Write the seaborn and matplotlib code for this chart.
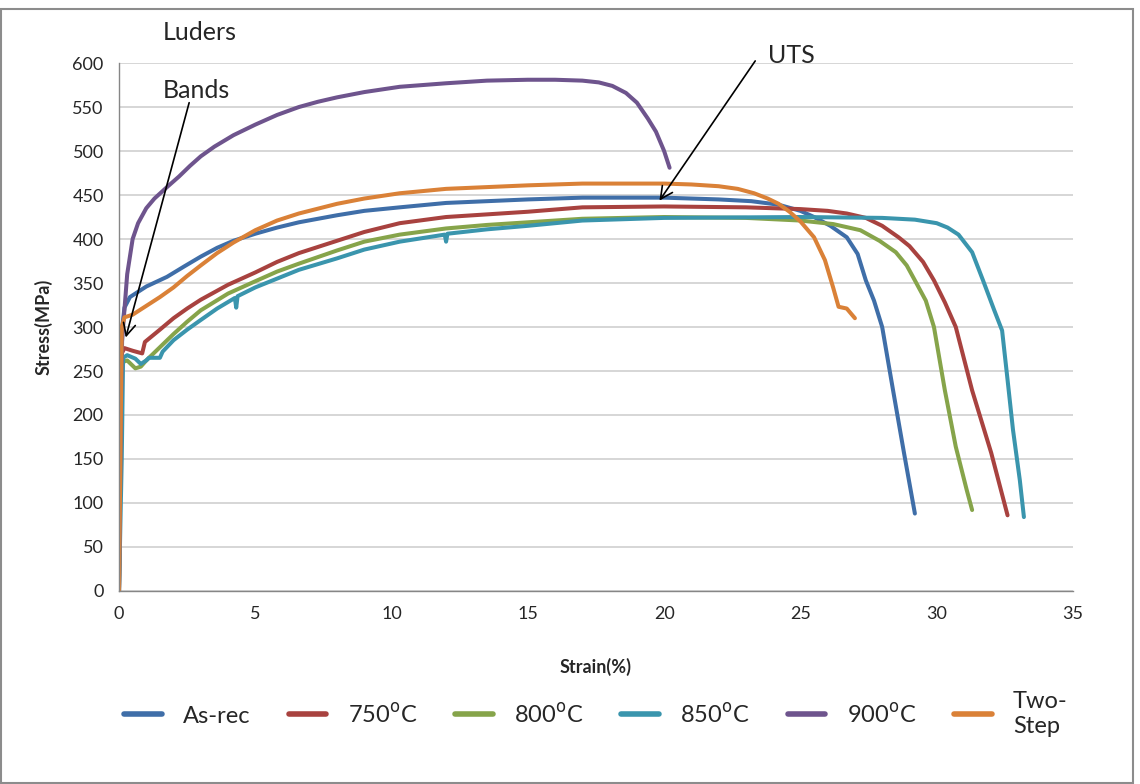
import numpy as np
import pandas as pd
import seaborn as sns
import matplotlib.pyplot as plt
from matplotlib.patches import Rectangle

# values (strain %, stress MPa)
asrec_x = [0, 0.05, 0.12, 0.2, 0.4, 0.7, 1, 1.76, 2.4, 3, 3.6, 4.2, 5, 5.8, 6.6, 8, 9, 10.3, 12, 13.5, 15, 17, 20, 22, 23.2, 24.2, 25.0, 25.5, 26.1, 26.7, 27.1, 27.4, 27.7, 28.0, 28.4, 28.8, 29.2]
asrec_y = [0, 150, 300, 322, 334, 340, 346, 357, 369, 380, 390, 398, 406, 413, 419, 427, 432, 436, 441, 443, 445, 447, 447, 445, 443, 439, 432, 425, 415, 402, 383, 353, 330, 300, 228, 157, 88]

t750_x = [0, 0.05, 0.1, 0.2, 0.5, 0.85, 0.95, 1.5, 2, 2.5, 3, 4, 5, 5.8, 6.6, 8, 9, 10.3, 12, 13.5, 15, 17, 20, 23, 25, 26, 26.7, 27.4, 28, 28.6, 29, 29.5, 29.9, 30.3, 30.7, 31.3, 32.0, 32.6]
t750_y = [0, 150, 270, 276, 273, 270, 283, 297, 310, 321, 331, 348, 362, 374, 384, 398, 408, 418, 425, 428, 431, 436, 437, 436, 434, 432, 429, 424, 415, 402, 392, 374, 353, 328, 300, 228, 157, 86]

t800_x = [0, 0.05, 0.12, 0.3, 0.6, 0.8, 1.0, 1.5, 2, 2.5, 3, 4, 5, 5.8, 6.6, 8, 9, 10.3, 12, 13.5, 15, 17, 20, 23, 25, 26.2, 27.2, 27.9, 28.5, 28.9, 29.2, 29.6, 29.9, 30.3, 30.7, 31.1, 31.3]
t800_y = [0, 150, 260, 262, 253, 255, 262, 277, 292, 306, 319, 338, 352, 363, 372, 387, 397, 405, 412, 416, 419, 423, 425, 424, 421, 417, 410, 398, 385, 370, 353, 330, 300, 228, 164, 115, 92]

t850_x = [0, 0.1, 0.15, 0.3, 0.6, 0.8, 1.0, 1.1, 1.5, 1.6, 2, 2.5, 3, 3.6, 4.25, 4.3, 4.35, 5, 5.8, 6.6, 8, 9, 10.3, 11.95, 12.0, 12.05, 13.5, 15, 17, 20, 25, 28, 29.2, 30, 30.4, 30.8, 31.3, 31.7, 32.1, 32.4, 32.6, 32.8, 33.05, 33.2]
t850_y = [0, 150, 265, 268, 264, 258, 262, 265, 265, 272, 285, 297, 308, 321, 333, 322, 335, 345, 355, 365, 378, 388, 397, 405, 397, 406, 411, 415, 421, 424, 425, 424, 422, 418, 413, 405, 385, 353, 320, 296, 240, 183, 126, 84]

t900_x = [0, 0.05, 0.1, 0.2, 0.3, 0.5, 0.7, 1, 1.3, 1.76, 2.2, 2.6, 3, 3.5, 4.2, 5, 5.8, 6.6, 7.3, 8, 9, 10.3, 12, 13.5, 15, 16, 17, 17.6, 18.1, 18.6, 19, 19.4, 19.7, 20.0, 20.2]
t900_y = [0, 150, 280, 320, 360, 400, 418, 435, 446, 459, 471, 483, 494, 505, 518, 530, 541, 550, 556, 561, 567, 573, 577, 580, 581, 581, 580, 578, 574, 566, 555, 537, 522, 500, 481]

twostep_x = [0, 0.05, 0.1, 0.2, 0.5, 1, 1.5, 2, 2.5, 3, 3.6, 4.2, 5, 5.8, 6.6, 8, 9, 10.3, 12, 13.5, 15, 17, 20, 21, 22, 22.7, 23.3, 23.8, 24.2, 24.6, 25.0, 25.5, 25.9, 26.2, 26.4, 26.7, 27.0]
twostep_y = [0, 150, 300, 311, 314, 324, 334, 345, 358, 370, 384, 396, 410, 421, 429, 440, 446, 452, 457, 459, 461, 463, 463, 462, 460, 457, 452, 446, 440, 431, 420, 402, 376, 345, 323, 321, 310]

names = ["As-rec", "750$^{\\mathrm{o}}$C", "800$^{\\mathrm{o}}$C", "850$^{\\mathrm{o}}$C", "900$^{\\mathrm{o}}$C", "Two-\nStep"]
colors = ["#3F6EA8", "#A8423F", "#86A44A", "#3A95AD", "#6E548D", "#DA8137"]

series = [(asrec_x, asrec_y), (t750_x, t750_y), (t800_x, t800_y),
          (t850_x, t850_y), (t900_x, t900_y), (twostep_x, twostep_y)]
frames = []
for name, (x, y) in zip(names, series):
    frames.append(pd.DataFrame({"strain": x, "stress": y, "sample": name}))
df = pd.concat(frames, ignore_index=True)

sns.set_style("white")
plt.rcParams['font.family'] = ['Lato', 'DejaVu Sans']

fig = plt.figure(figsize=(11.4, 7.84), dpi=100)
ax = fig.add_axes([0.1044, 0.2462, 0.8368, 0.6734])

sns.lineplot(data=df, x="strain", y="stress", hue="sample", palette=colors,
             sort=False, estimator=None, linewidth=2.9, ax=ax, legend=False)
for ln in ax.lines:
    ln.set_solid_joinstyle("round")
    ln.set_solid_capstyle("round")

ax.set_xlim(0, 35)
ax.set_ylim(0, 600)
ax.set_xticks(np.arange(0, 36, 5))
ax.set_yticks(np.arange(0, 601, 50))
ax.yaxis.grid(True, color="#D0D0D0", linewidth=1.2)
ax.xaxis.grid(False)
ax.set_axisbelow(True)
for s in ["top", "right"]:
    ax.spines[s].set_visible(False)
for s in ["left", "bottom"]:
    ax.spines[s].set_color("#868686")
    ax.spines[s].set_linewidth(1.0)
ax.tick_params(axis="both", which="major", labelsize=13, direction="out",
               length=5, color="#868686", pad=6)
ax.set_xlabel("Strain(%)", fontsize=13, fontweight="bold", labelpad=26)
ax.set_ylabel("Stress(MPa)", fontsize=13, fontweight="bold", labelpad=14)

# annotations
ax.text(1.6, 635, "Luders", fontsize=18, ha="left", va="center", clip_on=False)
ax.text(1.6, 569, "Bands", fontsize=18, ha="left", va="center", clip_on=False)
ax.annotate("", xy=(0.22, 285), xytext=(2.6, 558),
            arrowprops=dict(arrowstyle="->", color="black", lw=1.2,
                            mutation_scale=22), annotation_clip=False)
ax.text(23.8, 609, "UTS", fontsize=18, ha="left", va="center", clip_on=False)
ax.annotate("", xy=(19.77, 441), xytext=(23.4, 605),
            arrowprops=dict(arrowstyle="->", color="black", lw=1.2,
                            mutation_scale=22), annotation_clip=False)

handles = [plt.Line2D([], [], color=c, linewidth=4) for c in colors]
ax.legend(handles, names, ncol=6, loc="upper center", bbox_to_anchor=(0.5, -0.15),
          frameon=False, fontsize=17, handlelength=1.6, columnspacing=1.6,
          handletextpad=0.9)

fig.patches.append(Rectangle((0.001, 0.001), 0.993, 0.988, transform=fig.transFigure,
                             fill=False, edgecolor="#8C8C8C", linewidth=1.5))

fig.savefig("out.png", dpi=100)
